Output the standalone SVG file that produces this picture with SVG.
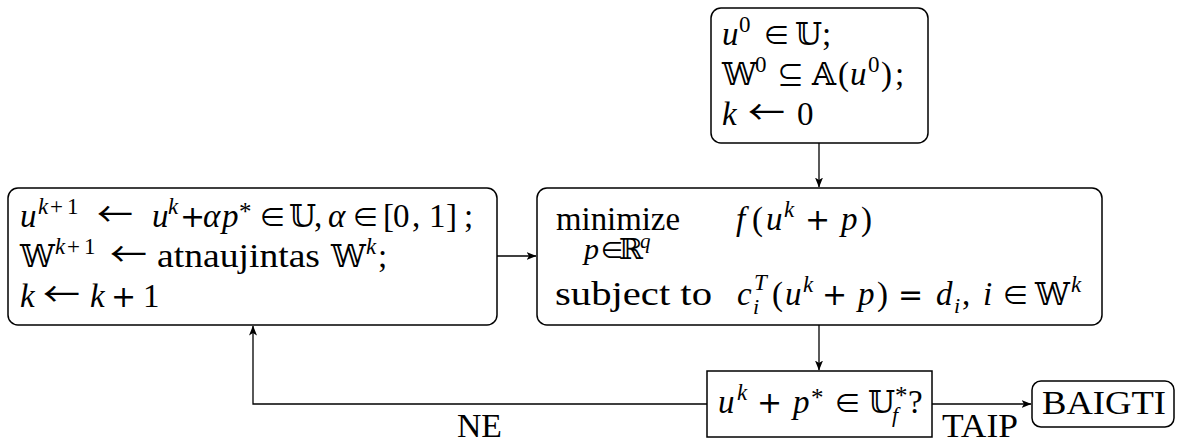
<svg xmlns="http://www.w3.org/2000/svg" width="1177" height="442" viewBox="0 0 1177 442">
  <defs>
    <style>
      .box { fill: #ffffff; stroke: #000000; stroke-width: 1.5; }
      .edge { fill: none; stroke: #000000; stroke-width: 1.3; }
      .t { font-family: "Liberation Serif", "DejaVu Serif", serif; font-size: 33px; fill: #000000; }
      .i { font-style: italic; }
      .sup { font-size: 23px; }
      .sub { font-size: 22px; }
      .star { font-size: 25px; }
      .bb { font-family: "DejaVu Serif", "DejaVu Sans", serif; font-style: normal; font-size: 31px; }
      .sym { font-family: "Noto Sans CJK SC", "DejaVu Sans", sans-serif; font-size: 27px; }
      .op { font-family: "DejaVu Sans", sans-serif; font-size: 30px; }
      .arr { font-family: "Noto Sans CJK SC", "DejaVu Sans", sans-serif; font-size: 33px; }
    </style>
    <marker id="tip" viewBox="0 0 10 8" markerWidth="10" markerHeight="8" refX="9.5" refY="4" orient="auto" markerUnits="userSpaceOnUse">
      <path d="M0,0 L10,4 L0,8 L2.5,4 z" fill="#000000"/>
    </marker>
  </defs>

  <rect width="1177" height="442" fill="#ffffff"/>

  <!-- connectors -->
  <g id="connectors">
    <path class="edge" d="M819,143 V187" marker-end="url(#tip)"/>
    <path class="edge" d="M497,256 H536" marker-end="url(#tip)"/>
    <path class="edge" d="M819,325 V370" marker-end="url(#tip)"/>
    <path class="edge" d="M707,404 H253 V326" marker-end="url(#tip)"/>
    <path class="edge" d="M932,404 H1031" marker-end="url(#tip)"/>
    <text class="t" x="457" y="437" textLength="45" lengthAdjust="spacingAndGlyphs">NE</text>
    <text class="t" x="942" y="437" textLength="76" lengthAdjust="spacingAndGlyphs">TAIP</text>
  </g>

  <!-- initialisation -->
  <g id="init">
    <rect class="box" x="711" y="8" width="217" height="135" rx="10"/>
    <text class="t"><tspan class="i" x="722" y="45">u</tspan><tspan class="sup" x="739" y="32">0</tspan><tspan class="sym" x="763" y="45">∈</tspan><tspan class="bb" x="795" y="45">𝕌</tspan><tspan x="822" y="45">;</tspan></text>
    <text class="t"><tspan class="bb" x="722" y="85">𝕎</tspan><tspan class="sup" x="755" y="72">0</tspan><tspan class="sym" x="777" y="85">⊆</tspan><tspan class="bb" x="812" y="85">𝔸</tspan><tspan x="838" y="85">(</tspan><tspan class="i" x="850" y="85">u</tspan><tspan class="sup" x="868" y="72">0</tspan><tspan x="881" y="85">)</tspan><tspan x="895" y="85">;</tspan></text>
    <text class="t"><tspan class="i" x="722" y="125">k</tspan><tspan x="797" y="125">0</tspan></text>
    <text class="arr" x="748" y="124" textLength="37" lengthAdjust="spacingAndGlyphs">←</text>
  </g>

  <!-- update step -->
  <g id="update">
    <rect class="box" x="8" y="188" width="489" height="137" rx="10"/>
    <text class="t"><tspan class="i" x="20" y="227">u</tspan><tspan class="sup i" x="38" y="214">k</tspan><tspan class="sup" x="50" y="214">+</tspan><tspan class="sup" x="67" y="214">1</tspan><tspan class="i" x="152" y="227">u</tspan><tspan class="sup i" x="168" y="214">k</tspan><tspan class="op" x="180" y="227">+</tspan><tspan class="i" x="203" y="227">α</tspan><tspan class="i" x="222" y="227">p</tspan><tspan class="star" x="239" y="220">*</tspan><tspan class="sym" x="259" y="227">∈</tspan><tspan class="bb" x="289" y="227">𝕌</tspan><tspan x="314" y="227">,</tspan><tspan class="i" x="328" y="227">α</tspan><tspan class="sym" x="352" y="227">∈</tspan><tspan x="383" y="227">[</tspan><tspan x="393" y="227">0</tspan><tspan x="412" y="227">,</tspan><tspan x="429" y="227">1</tspan><tspan x="446" y="227">]</tspan><tspan x="464" y="227">;</tspan></text>
    <text class="arr" x="97" y="226" textLength="36" lengthAdjust="spacingAndGlyphs">←</text>
    <text class="t"><tspan class="bb" x="20" y="267">𝕎</tspan><tspan class="sup i" x="55" y="254">k</tspan><tspan class="sup" x="67" y="254">+</tspan><tspan class="sup" x="84" y="254">1</tspan><tspan class="bb" x="331" y="267">𝕎</tspan><tspan class="sup i" x="366" y="254">k</tspan><tspan x="378" y="267">;</tspan></text>
    <text class="t" x="157" y="267" textLength="163" lengthAdjust="spacingAndGlyphs">atnaujintas</text>
    <text class="arr" x="110" y="266" textLength="37" lengthAdjust="spacingAndGlyphs">←</text>
    <text class="t"><tspan class="i" x="20" y="307">k</tspan><tspan class="i" x="90" y="307">k</tspan><tspan class="op" x="111" y="307">+</tspan><tspan x="143" y="307">1</tspan></text>
    <text class="arr" x="43" y="306" textLength="37" lengthAdjust="spacingAndGlyphs">←</text>
  </g>

  <!-- subproblem -->
  <g id="subproblem">
    <rect class="box" x="537" y="188" width="565" height="137" rx="10"/>
    <text class="t" x="556" y="230" textLength="124" lengthAdjust="spacingAndGlyphs">minimize</text>
    <text class="t" style="font-size:30px"><tspan class="i" x="584" y="259">p</tspan><tspan class="sym" style="font-size:24px" x="600" y="259">∈</tspan><tspan class="bb" style="font-size:29px" x="619" y="259">ℝ</tspan><tspan class="sup i" style="font-size:21px" x="640" y="248">q</tspan></text>
    <text class="t" x="555" y="305" textLength="157" lengthAdjust="spacingAndGlyphs">subject to</text>
    <text class="t"><tspan class="i" x="736" y="230">f</tspan><tspan x="752" y="230">(</tspan><tspan class="i" x="766" y="230">u</tspan><tspan class="sup i" x="784" y="217">k</tspan><tspan class="op" x="805" y="230">+</tspan><tspan class="i" x="841" y="230">p</tspan><tspan x="861" y="230">)</tspan></text>
    <text class="t"><tspan class="i" x="737" y="305">c</tspan><tspan class="sub i" x="753" y="314">i</tspan><tspan class="sup i" x="754" y="290">T</tspan><tspan x="772" y="305">(</tspan><tspan class="i" x="785" y="305">u</tspan><tspan class="sup i" x="803" y="292">k</tspan><tspan class="op" x="822" y="305">+</tspan><tspan class="i" x="858" y="305">p</tspan><tspan x="877" y="305">)</tspan><tspan class="op" x="898" y="305">=</tspan><tspan class="i" x="936" y="305">d</tspan><tspan class="sub i" x="954" y="313">i</tspan><tspan x="962" y="305">,</tspan><tspan class="i" x="983" y="305">i</tspan><tspan class="sym" x="1002" y="305">∈</tspan><tspan class="bb" x="1035" y="305">𝕎</tspan><tspan class="sup i" x="1071" y="292">k</tspan></text>
  </g>

  <!-- stopping test -->
  <g id="test">
    <rect class="box" x="707" y="371" width="225" height="66"/>
    <text class="t"><tspan class="i" x="718" y="413">u</tspan><tspan class="sup i" x="737" y="400">k</tspan><tspan class="op" x="757" y="413">+</tspan><tspan class="i" x="793" y="413">p</tspan><tspan class="star" x="811" y="406">*</tspan><tspan class="sym" x="834" y="413">∈</tspan><tspan class="bb" x="868" y="413">𝕌</tspan><tspan class="sub i" x="892" y="422">f</tspan><tspan class="star" x="895" y="404">*</tspan><tspan x="908" y="413">?</tspan></text>
  </g>

  <!-- finish -->
  <g id="finish">
    <rect class="box" x="1032" y="381" width="142" height="46" rx="9"/>
    <text class="t" x="1042" y="414" textLength="124" lengthAdjust="spacingAndGlyphs">BAIGTI</text>
  </g>
</svg>
